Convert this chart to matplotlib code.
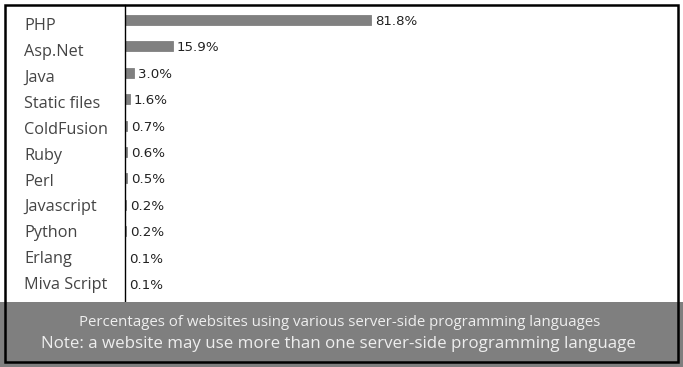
import matplotlib.pyplot as plt
from matplotlib.patches import Rectangle

languages = ["PHP", "Asp.Net", "Java", "Static files", "ColdFusion", "Ruby",
             "Perl", "Javascript", "Python", "Erlang", "Miva Script"]
shares = [81.8, 15.9, 3.0, 1.6, 0.7, 0.6, 0.5, 0.2, 0.2, 0.1, 0.1]

caption1 = "Percentages of websites using various server-side programming languages"
caption2 = "Note: a website may use more than one server-side programming language"

W, H = 683, 367
fig = plt.figure(figsize=(W / 100, H / 100), dpi=100)

# gray caption band
fig.patches.append(Rectangle((0, 0), 1, (H - 302) / H, transform=fig.transFigure,
                             facecolor="#7f7f7f", edgecolor="none", zorder=0))

# bar axes: left edge is the vertical divider line
ax = fig.add_axes([125 / W, (H - 302) / H, (678 - 125) / W, (302 - 5) / H])
ax.patch.set_alpha(0)
ypos = list(range(len(languages)))
ax.barh(ypos, shares, height=0.38, color="#808080", edgecolor="#808080",
        linewidth=0.6)
ax.set_xlim(0, 553 / 3.007)
ax.set_ylim(10.68, -0.57)
for s in ["top", "right", "bottom"]:
    ax.spines[s].set_visible(False)
ax.spines["left"].set_linewidth(1.0)
ax.spines["left"].set_color("black")
ax.set_xticks([])
ax.set_yticks([])

for y, v in zip(ypos, shares):
    ax.annotate(f"{v:.1f}%", (v, y), xytext=(3, -3.6), textcoords="offset points",
                va="baseline", ha="left", fontsize=9.6, color="#222222",
                family="DejaVu Sans")

# category labels sit on their own slightly tighter row grid
for i, name in enumerate(languages):
    fig.text(24 / W, 1 - (30.2 + 25.9 * i) / H, name, ha="left", va="baseline",
             fontsize=11.7, color="#444444", family="Open Sans")

fig.text(0.497, 1 - 322 / H, caption1, ha="center", va="center",
         fontsize=10.8, color="#eeeeee", family="Open Sans")
fig.text(0.496, 1 - 344 / H, caption2, ha="center", va="center",
         fontsize=12.2, color="#eeeeee", family="Open Sans")

# outer border
fig.patches.append(Rectangle((5 / W, 5 / H), 673 / W, 357 / H, transform=fig.transFigure,
                             facecolor="none", edgecolor="black", linewidth=1.8,
                             zorder=5))

fig.savefig("out.png", dpi=100)
